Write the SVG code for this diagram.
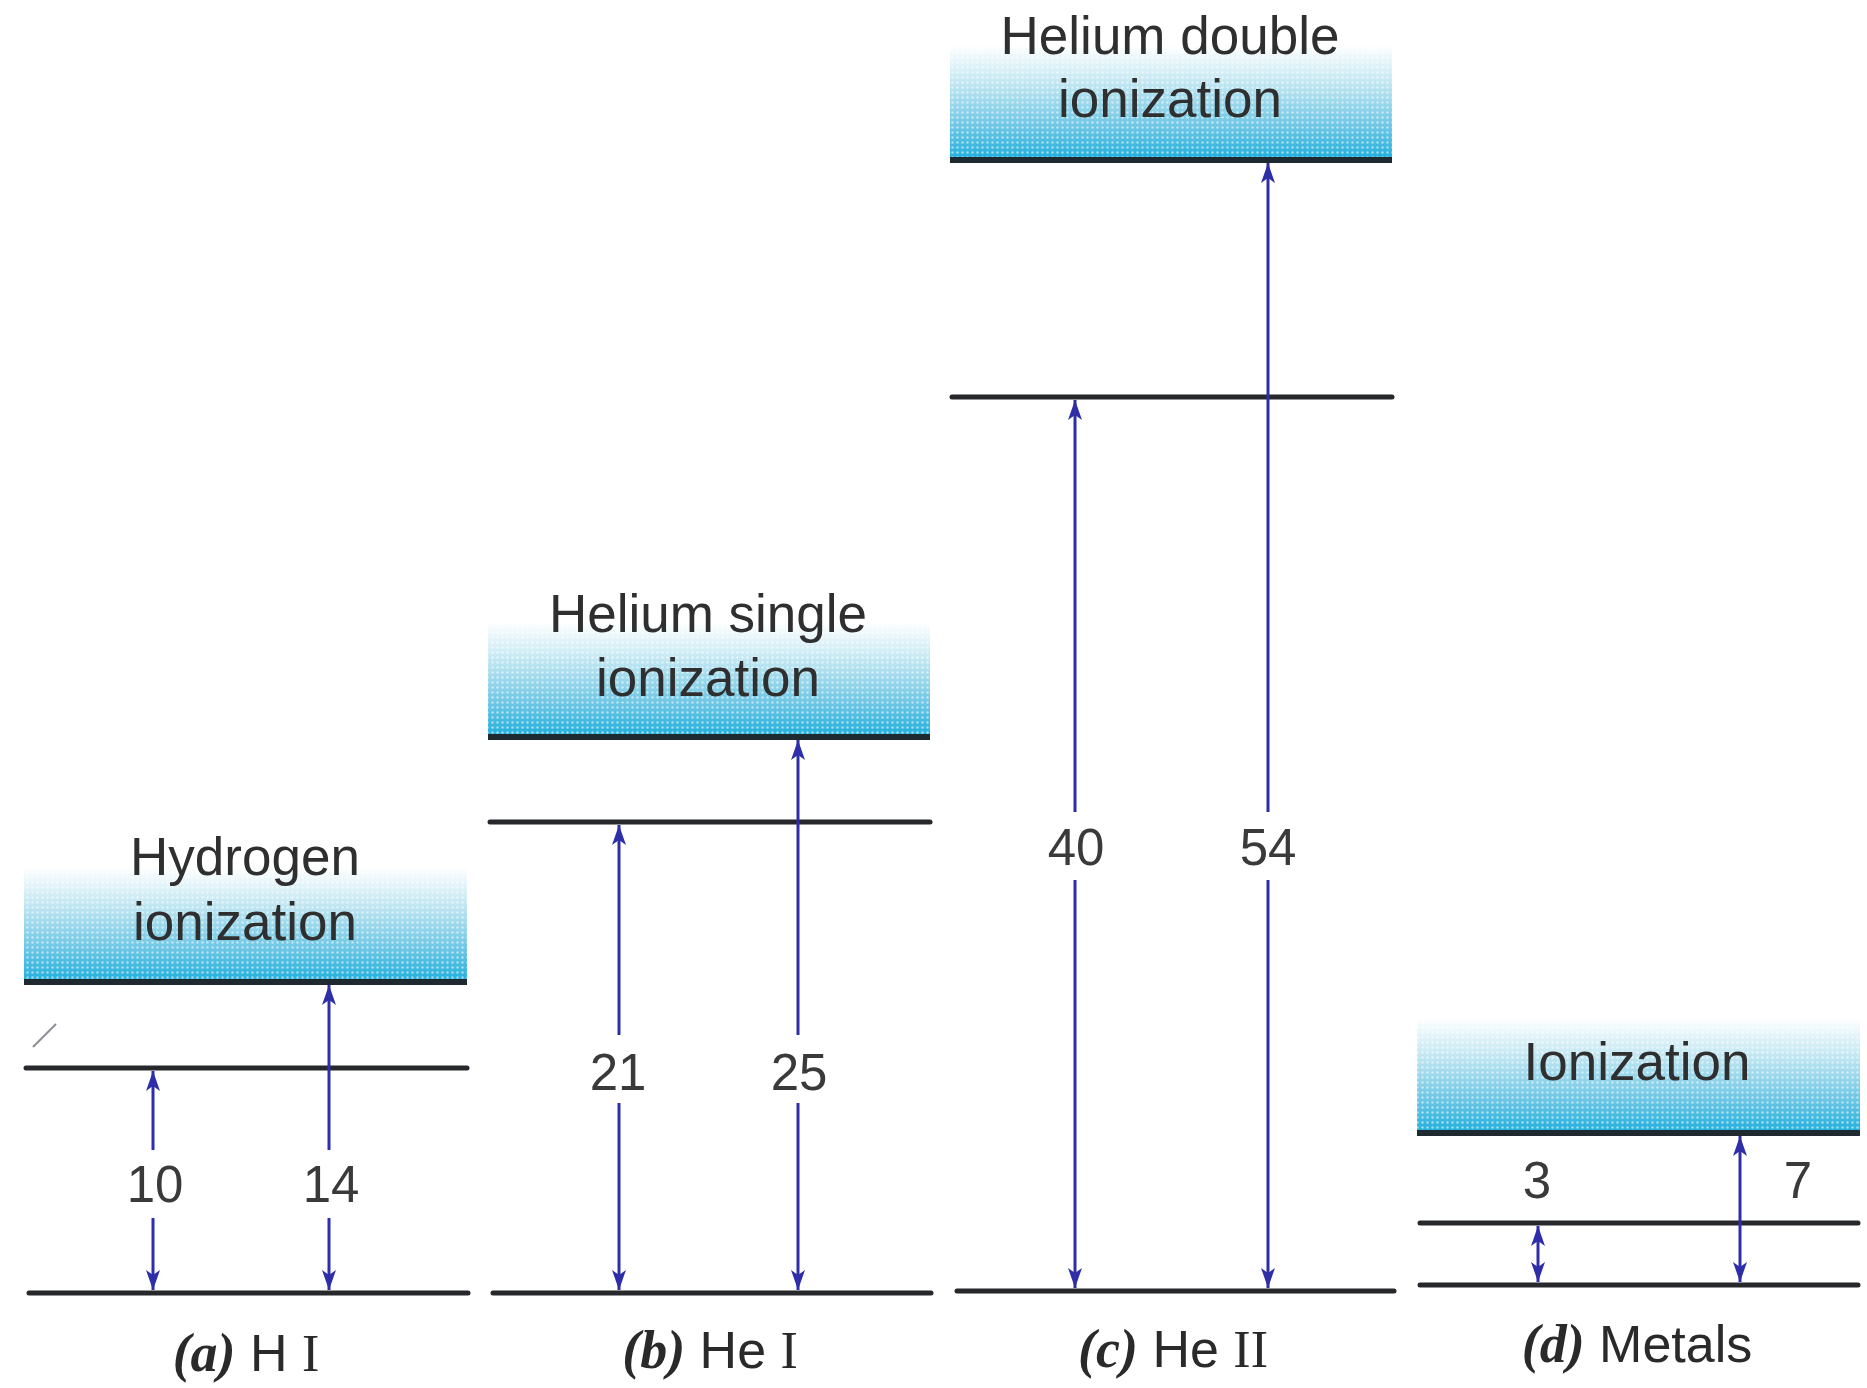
<svg xmlns="http://www.w3.org/2000/svg" width="1867" height="1388" viewBox="0 0 1867 1388">
  <style>
    .level { stroke: #26282c; stroke-width: 5; stroke-linecap: round; fill: none; }
    .edge { stroke: #1f2a30; stroke-width: 6; fill: none; }
    .arrow { stroke: #2e2ea8; stroke-width: 3; fill: none; }
    .band-label { font-family: "Liberation Sans", Arial, sans-serif; font-size: 53px; fill: #2f2f2f; text-anchor: middle; }
    .value { font-family: "Liberation Sans", Arial, sans-serif; font-size: 51px; fill: #3a3a3a; text-anchor: middle; }
    .caption { font-family: "Liberation Sans", Arial, sans-serif; font-size: 52px; fill: #2a2a2a; text-anchor: middle; }
    .tag { font-family: "Liberation Serif", "Times New Roman", serif; font-style: italic; font-weight: bold; font-size: 54px; }
    .roman { font-family: "Liberation Serif", "Times New Roman", serif; font-size: 52px; }
  </style>
  <defs>
    <linearGradient id="bandFill" x1="0" y1="0" x2="0" y2="1">
      <stop offset="0" stop-color="#ffffff"/>
      <stop offset="0.3" stop-color="#c8e9f3"/>
      <stop offset="0.7" stop-color="#6fc7e5"/>
      <stop offset="1" stop-color="#1fafdc"/>
    </linearGradient>
    <pattern id="dots" width="5" height="5" patternUnits="userSpaceOnUse">
      <circle cx="2.5" cy="2.5" r="1.2" fill="#ffffff" fill-opacity="0.55"/>
    </pattern>
    <marker id="head" viewBox="0 0 20 14" refX="20" refY="7" markerWidth="20" markerHeight="14" markerUnits="userSpaceOnUse" orient="auto-start-reverse">
      <path d="M0,0 L20,7 L0,14 L5,7 Z" fill="#2e2ea8"/>
    </marker>
  </defs>

  <!-- (a) hydrogen -->
  <g id="panel-a">
    <g id="a-ionization">
      <rect x="24" y="867" width="443" height="115" fill="url(#bandFill)"/>
      <rect x="24" y="867" width="443" height="115" fill="url(#dots)"/>
      <line class="edge" x1="24" y1="982" x2="467" y2="982"/>
      <text class="band-label" x="245" y="875">Hydrogen</text>
      <text class="band-label" x="245" y="940">ionization</text>
    </g>
    <line id="a-excited" class="level" x1="26" y1="1068" x2="467" y2="1068"/>
    <line id="a-ground" class="level" x1="29" y1="1293" x2="468" y2="1293"/>
    <line x1="33" y1="1047" x2="56" y2="1024" stroke="#8a8f94" stroke-width="2"/>
    <text id="a-caption" class="caption" x="246" y="1371"><tspan class="tag">(a)</tspan> H <tspan class="roman">I</tspan></text>
  </g>

  <!-- (b) neutral helium -->
  <g id="panel-b">
    <g id="b-ionization">
      <rect x="488" y="622" width="442" height="115" fill="url(#bandFill)"/>
      <rect x="488" y="622" width="442" height="115" fill="url(#dots)"/>
      <line class="edge" x1="488" y1="737" x2="930" y2="737"/>
      <text class="band-label" x="708" y="632">Helium single</text>
      <text class="band-label" x="708" y="696">ionization</text>
    </g>
    <line id="b-excited" class="level" x1="490" y1="822" x2="930" y2="822"/>
    <line id="b-ground" class="level" x1="493" y1="1293" x2="931" y2="1293"/>
    <text id="b-caption" class="caption" x="710" y="1368"><tspan class="tag">(b)</tspan> He <tspan class="roman">I</tspan></text>
  </g>

  <!-- (c) ionized helium -->
  <g id="panel-c">
    <g id="c-ionization">
      <rect x="950" y="45" width="442" height="115" fill="url(#bandFill)"/>
      <rect x="950" y="45" width="442" height="115" fill="url(#dots)"/>
      <line class="edge" x1="950" y1="160" x2="1392" y2="160"/>
      <text class="band-label" x="1170" y="54">Helium double</text>
      <text class="band-label" x="1170" y="117">ionization</text>
    </g>
    <line id="c-excited" class="level" x1="952" y1="397" x2="1392" y2="397"/>
    <line id="c-ground" class="level" x1="957" y1="1291" x2="1394" y2="1291"/>
    <text id="c-caption" class="caption" x="1173" y="1367"><tspan class="tag">(c)</tspan> He <tspan class="roman">II</tspan></text>
  </g>

  <!-- (d) metals -->
  <g id="panel-d">
    <g id="d-ionization">
      <rect x="1417" y="1018" width="443" height="115" fill="url(#bandFill)"/>
      <rect x="1417" y="1018" width="443" height="115" fill="url(#dots)"/>
      <line class="edge" x1="1417" y1="1133" x2="1860" y2="1133"/>
      <text class="band-label" x="1637" y="1080">Ionization</text>
    </g>
    <line id="d-excited" class="level" x1="1420" y1="1223" x2="1858" y2="1223"/>
    <line id="d-ground" class="level" x1="1420" y1="1285" x2="1858" y2="1285"/>
    <text id="d-caption" class="caption" x="1637" y="1362"><tspan class="tag">(d)</tspan> Metals</text>
  </g>

  <!-- transitions, in eV -->
  <g id="transitions">
    <line class="arrow" x1="153" y1="1150" x2="153" y2="1071" marker-end="url(#head)"/>
    <line class="arrow" x1="153" y1="1218" x2="153" y2="1290" marker-end="url(#head)"/>
    <text class="value" x="155" y="1202">10</text>

    <line class="arrow" x1="329" y1="1150" x2="329" y2="985" marker-end="url(#head)"/>
    <line class="arrow" x1="329" y1="1218" x2="329" y2="1290" marker-end="url(#head)"/>
    <text class="value" x="331" y="1202">14</text>

    <line class="arrow" x1="619" y1="1035" x2="619" y2="825" marker-end="url(#head)"/>
    <line class="arrow" x1="619" y1="1103" x2="619" y2="1290" marker-end="url(#head)"/>
    <text class="value" x="618" y="1090">21</text>

    <line class="arrow" x1="798" y1="1035" x2="798" y2="740" marker-end="url(#head)"/>
    <line class="arrow" x1="798" y1="1103" x2="798" y2="1290" marker-end="url(#head)"/>
    <text class="value" x="799" y="1090">25</text>

    <line class="arrow" x1="1075" y1="812" x2="1075" y2="400" marker-end="url(#head)"/>
    <line class="arrow" x1="1075" y1="880" x2="1075" y2="1288" marker-end="url(#head)"/>
    <text class="value" x="1076" y="865">40</text>

    <line class="arrow" x1="1268" y1="812" x2="1268" y2="163" marker-end="url(#head)"/>
    <line class="arrow" x1="1268" y1="880" x2="1268" y2="1288" marker-end="url(#head)"/>
    <text class="value" x="1268" y="865">54</text>

    <line class="arrow" x1="1538" y1="1226" x2="1538" y2="1282" marker-start="url(#head)" marker-end="url(#head)"/>
    <text class="value" x="1537" y="1198">3</text>

    <line class="arrow" x1="1740" y1="1136" x2="1740" y2="1282" marker-start="url(#head)" marker-end="url(#head)"/>
    <text class="value" x="1798" y="1198">7</text>
  </g>
</svg>
